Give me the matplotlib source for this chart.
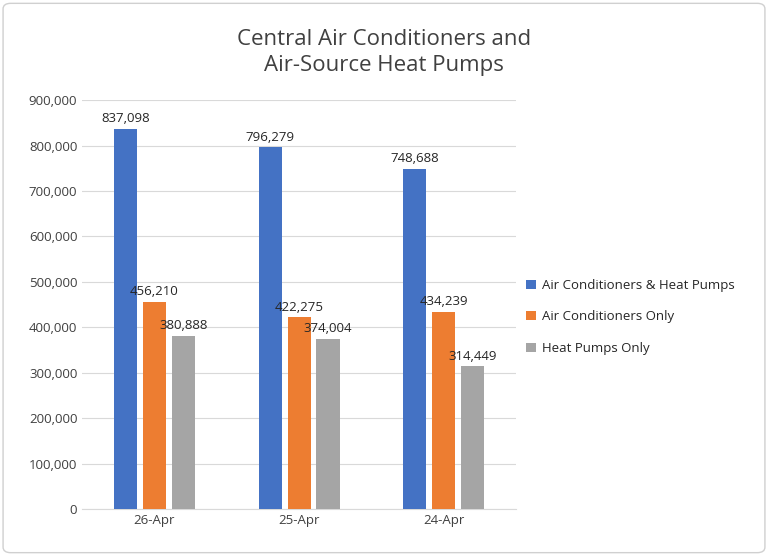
import matplotlib.pyplot as plt
import numpy as np
from matplotlib.patches import FancyBboxPatch

dates = ['26-Apr', '25-Apr', '24-Apr']
series = ['Air Conditioners & Heat Pumps', 'Air Conditioners Only', 'Heat Pumps Only']
both = [837098, 796279, 748688]
ac_only = [456210, 422275, 434239]
hp_only = [380888, 374004, 314449]
colors = ['#4472C4', '#ED7D31', '#A5A5A5']

plt.rcParams['font.family'] = ['Open Sans', 'DejaVu Sans']
fig = plt.figure(figsize=(7.68, 5.56), dpi=100)
fig.patches.append(FancyBboxPatch((0.004, 0.006), 0.992, 0.988, boxstyle='round,pad=0,rounding_size=0.01',
                                  transform=fig.transFigure, fill=False, ec='#d0d0d0', lw=1))
ax = fig.add_axes([0.107, 0.0845, 0.565, 0.7355])

x = np.arange(len(dates))
w = 0.16
step = 0.2
for i, (vals, name) in enumerate(zip([both, ac_only, hp_only], series)):
    bars = ax.bar(x + (i - 1) * step, vals, w, color=colors[i], label=name, zorder=3)
    for b, v in zip(bars, vals):
        ax.text(b.get_x() + b.get_width() / 2, v + 8000, f'{v:,}', ha='center', va='bottom',
                fontsize=9.5, color='#262626')

ax.set_ylim(0, 900000)
ax.set_xlim(-0.5, 2.5)
ax.set_yticks(np.arange(0, 900001, 100000))
ax.set_yticklabels([f'{v:,}' for v in range(0, 900001, 100000)])
ax.set_xticks(x)
ax.set_xticklabels(dates)
ax.tick_params(colors='#404040', labelsize=9.5, length=0)
ax.grid(axis='y', color='#d9d9d9', lw=0.8, zorder=0)
for s in ['top', 'right', 'left']:
    ax.spines[s].set_visible(False)
ax.spines['bottom'].set_color('#d9d9d9')

fig.text(0.5, 0.905, 'Central Air Conditioners and\nAir-Source Heat Pumps', ha='center', va='center',
         fontsize=16, color='#404040', linespacing=1.3)
fig.legend(loc='center left', bbox_to_anchor=(0.67, 0.43), frameon=False, fontsize=9.5,
           labelcolor='#262626', handlelength=0.7, handleheight=0.7, handletextpad=0.5, labelspacing=1.4)

fig.savefig('out.png')
